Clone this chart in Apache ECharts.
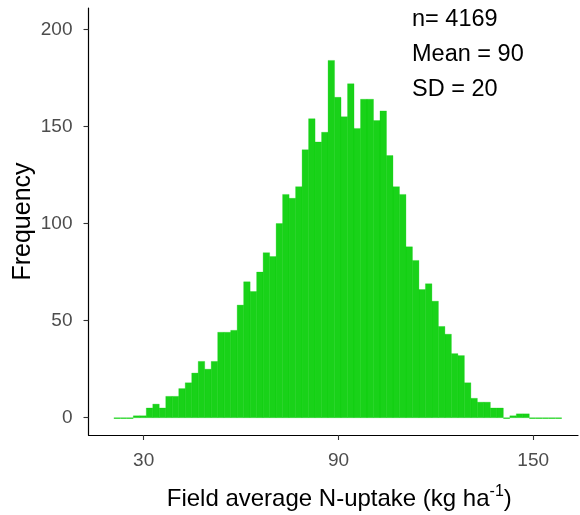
<!DOCTYPE html>
<html><head><meta charset="utf-8">
<script src="https://cdn.jsdelivr.net/npm/echarts@6/dist/echarts.min.js"></script>
<style>html,body{margin:0;padding:0;background:#fff}#c{width:580px;height:515px}</style>
</head><body><div id="c"></div>
<script>
// Histogram bins: left edge of first bin and bin width (x units)
const binStart = 20.8;
const binWidth = 2;
// Frequency per bin
const counts = [0, 0, 0, 1, 1, 5, 7, 5, 11, 11,
  15, 18, 23, 29, 25, 29, 44, 44, 45, 58,
  70, 65, 75, 85, 83, 100, 115, 113, 119, 138,
  154, 142, 147, 184, 165, 155, 172, 149, 164, 164,
  153, 158, 135, 119, 115, 88, 81, 66, 69, 60,
  47, 43, 33, 32, 18, 10, 8, 8, 5, 5,
  0, 1, 2, 2, 0, 0, 0, 0, 0];
const xTicks = [30, 90, 150];
const yTicks = [0, 50, 100, 150, 200];
const statLines = ['n= 4169', 'Mean = 90', 'SD = 20'];
const xTitle = 'Field average N-uptake (kg ha';
const xTitleSup = '-1';
const yTitle = 'Frequency';

const FONT = '"Liberation Sans", Arial, sans-serif';
const FILL = 'rgba(0,205,0,0.9)';

const data = counts.map((c, i) => [binStart + i * binWidth, binStart + (i + 1) * binWidth, c]);

const chart = echarts.init(document.getElementById('c'), null, {renderer: 'canvas'});
chart.setOption({
  animation: false,
  backgroundColor: '#fff',
  grid: {left: 88.5, right: 2, top: 8, bottom: 80, containLabel: false, outerBoundsMode: 'none'},
  xAxis: {
    type: 'value', min: 13, max: 163.8,
    axisLine: {show: true, onZero: false, lineStyle: {color: '#000', width: 1.2}},
    axisTick: {show: true, length: 5, customValues: xTicks, lineStyle: {color: '#333', width: 1.1}},
    axisLabel: {customValues: xTicks, color: '#4D4D4D', fontFamily: FONT, fontSize: 19, margin: 16},
    splitLine: {show: false},
    name: '{a|' + xTitle + '}{s|' + xTitleSup + '}{a|)}',
    nameLocation: 'middle', nameGap: 48,
    nameTextStyle: {
      padding: [0, 0, 0, 12],
      rich: {
        a: {fontFamily: FONT, fontSize: 24, color: '#000', verticalAlign: 'bottom', lineHeight: 28},
        s: {fontFamily: FONT, fontSize: 16, color: '#000', verticalAlign: 'bottom', lineHeight: 28, padding: [0, 0, 11, 0]}
      }
    }
  },
  yAxis: {
    type: 'value', min: -8.9, max: 211,
    axisLine: {show: true, onZero: false, lineStyle: {color: '#000', width: 1.2}},
    axisTick: {show: true, length: 5, customValues: yTicks, lineStyle: {color: '#333', width: 1.1}},
    axisLabel: {customValues: yTicks, color: '#4D4D4D', fontFamily: FONT, fontSize: 19, margin: 16},
    splitLine: {show: false},
    name: yTitle, nameLocation: 'middle', nameGap: 53, nameRotate: 90, nameMoveOverlap: false,
    nameTextStyle: {fontFamily: FONT, fontSize: 25, color: '#000'}
  },
  series: [{
    type: 'custom',
    data: data,
    encode: {x: [0, 1], y: 2},
    renderItem: function (params, api) {
      const x0 = api.value(0), x1 = api.value(1), c = api.value(2);
      const p0 = api.coord([x0, c]);
      const p1 = api.coord([x1, 0]);
      if (c === 0) {
        return {type: 'line', shape: {x1: p0[0], y1: p1[1] + 0.5, x2: p1[0], y2: p1[1] + 0.5},
          style: {stroke: 'rgba(0,205,0,0.75)', lineWidth: 1.5}};
      }
      return {type: 'rect', shape: {x: p0[0], y: p0[1], width: p1[0] - p0[0], height: p1[1] - p0[1]},
        style: {fill: FILL, stroke: FILL, lineWidth: 0.3}};
    }
  }],
  graphic: statLines.map((t, i) => ({
    type: 'text', left: 412, top: 8 + i * 35,
    style: {text: t, fontFamily: FONT, fontSize: 23.5, fill: '#000'}
  }))
});
</script></body></html>
